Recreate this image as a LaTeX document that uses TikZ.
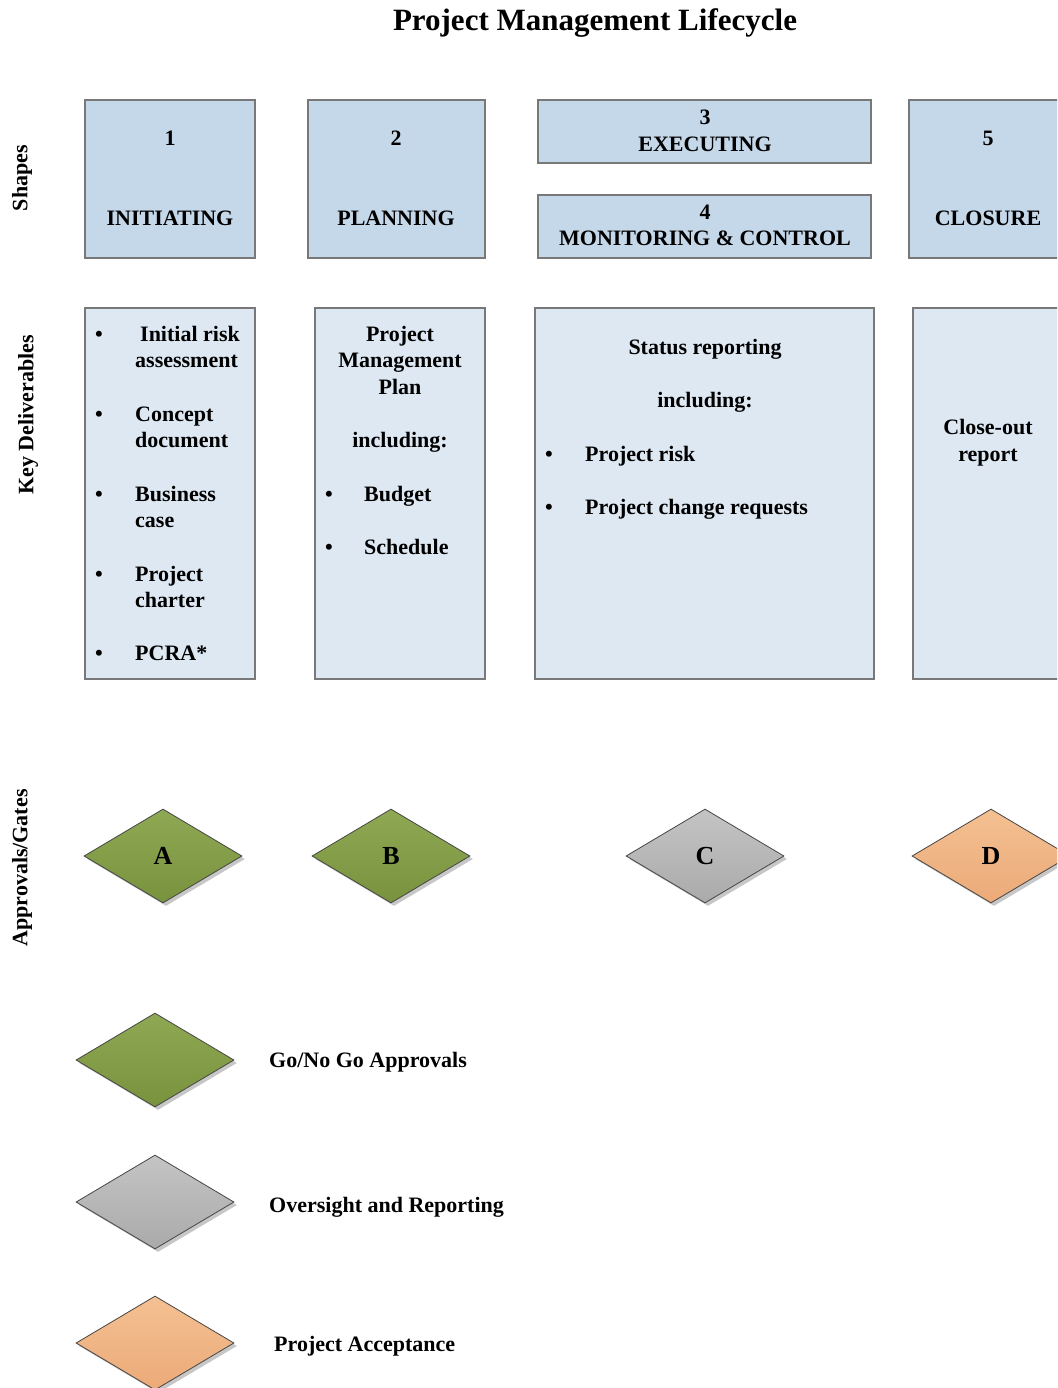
\documentclass[tikz,border=0pt]{standalone}
\usepackage{fontspec}
\setmainfont{Liberation Serif}
\usetikzlibrary{shapes.geometric,shadows}
\definecolor{hdrfill}{RGB}{197,216,234}
\definecolor{delfill}{RGB}{222,232,243}
\definecolor{boxedge}{RGB}{120,120,120}
\definecolor{dedge}{RGB}{70,70,70}
\definecolor{gtop}{RGB}{142,168,84}
\definecolor{gbot}{RGB}{120,146,62}
\definecolor{ytop}{RGB}{196,196,196}
\definecolor{ybot}{RGB}{170,170,170}
\definecolor{otop}{RGB}{244,192,146}
\definecolor{obot}{RGB}{236,170,120}
\begin{document}
\begin{tikzpicture}[x=1pt,y=-1pt,
  every node/.style={font=\fontsize{22}{26}\selectfont\bfseries, inner sep=0pt},
  hdrbox/.style={draw=boxedge, line width=1.1pt, fill=hdrfill, rectangle},
  delbox/.style={draw=boxedge, line width=1.1pt, fill=delfill, rectangle},
  gate/.style={diamond, aspect=1.68, minimum width=158pt, minimum height=94pt, draw=dedge, line width=0.8pt,
    font=\fontsize{26}{30}\selectfont\bfseries,
    drop shadow={shadow xshift=3pt, shadow yshift=-3pt, fill=black, opacity=0.22}},
  ggreen/.style={gate, top color=gtop, bottom color=gbot},
  ggray/.style={gate, top color=ytop, bottom color=ybot},
  gorange/.style={gate, top color=otop, bottom color=obot},
  bul/.style={anchor=base},
  itm/.style={anchor=base west},
  ctr/.style={anchor=base},
  side/.style={rotate=90}
]
\clip (0,0) rectangle (1057,1388);
\fill[white] (0,0) rectangle (1057,1388);

% title
\node[font=\fontsize{31}{36}\selectfont\bfseries, anchor=base] (title) at (595,31) {Project Management Lifecycle};

% side labels
\node[side] (lshapes) at (22,178) {Shapes};
\node[side] (ldeliv) at (28,415) {Key Deliverables};
\node[side] (lgates) at (22,868) {Approvals/Gates};

% header boxes
\node[hdrbox, minimum width=170pt, minimum height=158pt] (s1) at (170,179) {};
\node[hdrbox, minimum width=177pt, minimum height=158pt] (s2) at (396.5,179) {};
\node[hdrbox, minimum width=333pt, minimum height=63pt] (s3) at (704.5,131.5) {};
\node[hdrbox, minimum width=333pt, minimum height=63pt] (s4) at (704.5,226.5) {};
\node[hdrbox, minimum width=158pt, minimum height=158pt] (s5) at (988,179) {};

\node (n1) at (170,138) {1};
\node (t1) at (170,218) {INITIATING};
\node (n2) at (396,138) {2};
\node (t2) at (396,218) {PLANNING};
\node (n3) at (705,117) {3};
\node (t3) at (705,144) {EXECUTING};
\node (n4) at (705,212) {4};
\node (t4) at (705,238) {MONITORING \& CONTROL};
\node (n5) at (988,138) {5};
\node (t5) at (988,218) {CLOSURE};

% deliverable boxes
\node[delbox, minimum width=170pt, minimum height=371pt] (d1) at (170,493.5) {};
\node[delbox, minimum width=170pt, minimum height=371pt] (d2) at (400,493.5) {};
\node[delbox, minimum width=339pt, minimum height=371pt] (d3) at (704.5,493.5) {};
\node[delbox, minimum width=150pt, minimum height=371pt] (d4) at (988,493.5) {};

% column 1
\node[bul] (b11) at (99,341) {•};
\node[bul] (b12) at (99,421) {•};
\node[bul] (b13) at (99,501) {•};
\node[bul] (b14) at (99,581) {•};
\node[bul] (b15) at (99,660) {•};
\node[itm] (c11) at (140,341) {Initial risk};
\node[itm] (c12) at (135,367) {assessment};
\node[itm] (c13) at (135,421) {Concept};
\node[itm] (c14) at (135,447) {document};
\node[itm] (c15) at (135,501) {Business};
\node[itm] (c16) at (135,527) {case};
\node[itm] (c17) at (135,581) {Project};
\node[itm] (c18) at (135,607) {charter};
\node[itm] (c19) at (135,660) {PCRA*};

% column 2
\node[ctr] (c21) at (400,341) {Project};
\node[ctr] (c22) at (400,367) {Management};
\node[ctr] (c23) at (400,394) {Plan};
\node[ctr] (c24) at (400,447) {including:};
\node[bul] (b21) at (329,501) {•};
\node[bul] (b22) at (329,554) {•};
\node[itm] (c25) at (364,501) {Budget};
\node[itm] (c26) at (364,554) {Schedule};

% column 3
\node[ctr] (c31) at (705,354) {Status reporting};
\node[ctr] (c32) at (705,407) {including:};
\node[bul] (b31) at (549,461) {•};
\node[bul] (b32) at (549,514) {•};
\node[itm] (c33) at (585,461) {Project risk};
\node[itm] (c34) at (585,514) {Project change requests};

% column 4
\node[ctr] (c41) at (988,434) {Close-out};
\node[ctr] (c42) at (988,461) {report};

% gates
\node[ggreen] (ga) at (163,856) {A};
\node[ggreen] (gb) at (391,856) {B};
\node[ggray] (gc) at (705,856) {C};
\node[gorange] (gd) at (991,856) {D};

% legend
\node[ggreen] (lg1) at (155,1060) {};
\node[ggray] (lg2) at (155,1202) {};
\node[gorange] (lg3) at (155,1343) {};
\node[itm] (lt1) at (269,1067) {Go/No Go Approvals};
\node[itm] (lt2) at (269,1212) {Oversight and Reporting};
\node[itm] (lt3) at (274,1351) {Project Acceptance};
\end{tikzpicture}
\end{document}
